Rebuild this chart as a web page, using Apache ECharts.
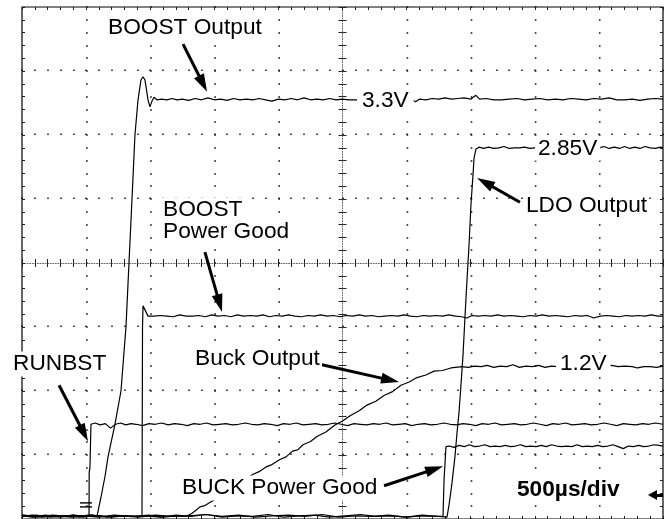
<!DOCTYPE html>
<html>
<head>
<meta charset="utf-8">
<title>Power-up sequence</title>
<script src="https://cdn.jsdelivr.net/npm/echarts@6/dist/echarts.min.js"></script>
<style>
    html, body { margin: 0; padding: 0; background: #fff; }
    #scope_shot { width: 669px; height: 519px; }
</style>
</head>
<body>
<div id="scope_shot"></div>
<script>
// ------------------------------
// Data (time in µs, level in screen divisions from the bottom)
// ------------------------------

var timeMin = 0, timeMax = 5000, timeStep = 500;   // 500µs/div, 10 divisions
var levelMin = 0, levelMax = 8, levelStep = 1;     // 8 divisions

// Dotted graticule (the centre lines are drawn by the centre axes)
var timeGrid = [500, 1000, 1500, 2000, 3000, 3500, 4000, 4500];
var levelGrid = [1, 2, 3, 5, 6, 7];

var boostOut = [
    [0, 0.05], [90, 0.03], [180, 0.06], [270, 0.04], [360, 0.05], [450, 0.03], [540, 0.06], [585, 0.04],
    [616, 0.34], [647, 0.66], [671, 0.97], [725, 1.48], [772, 2.0], [811, 3.0], [835, 4.02], [858, 5.0],
    [881, 6.0], [905, 6.55], [928, 6.86], [944, 6.91], [959, 6.86], [983, 6.55], [998, 6.44], [1014, 6.53],
    [1030, 6.59], [1053, 6.55], [1090, 6.56], [1130, 6.55], [1170, 6.57], [1210, 6.55], [1250, 6.56],
    [1300, 6.54], [1350, 6.57], [1400, 6.55], [1450, 6.58], [1500, 6.55], [1550, 6.56], [1600, 6.54],
    [1650, 6.57], [1700, 6.55], [1750, 6.56], [1800, 6.55], [1850, 6.57], [1900, 6.55], [1950, 6.53],
    [2000, 6.56], [2050, 6.55], [2100, 6.57], [2150, 6.55], [2200, 6.58], [2250, 6.55], [2300, 6.56],
    [2350, 6.55], [2400, 6.57], [2450, 6.55], [2500, 6.56], [2550, 6.55], [2620, 6.55], [2800, 6.55],
    [3040, 6.55], [3070, 6.52], [3100, 6.56], [3150, 6.55], [3200, 6.57], [3250, 6.56], [3300, 6.58],
    [3350, 6.56], [3400, 6.57], [3450, 6.58], [3500, 6.56], [3540, 6.62], [3570, 6.56], [3620, 6.57],
    [3680, 6.55], [3740, 6.55], [3800, 6.56], [3860, 6.57], [3920, 6.55], [3980, 6.56], [4040, 6.57],
    [4100, 6.55], [4160, 6.56], [4220, 6.55], [4280, 6.57], [4340, 6.56], [4400, 6.55], [4460, 6.57],
    [4520, 6.56], [4580, 6.58], [4640, 6.55], [4700, 6.55], [4760, 6.56], [4820, 6.54], [4880, 6.56],
    [4940, 6.57], [5000, 6.56]
];

var boostGood = [
    [0, 0.06], [100, 0.04], [200, 0.05], [300, 0.03], [400, 0.06], [500, 0.04], [600, 0.05], [700, 0.03],
    [800, 0.05], [900, 0.04], [936, 0.04], [940, 3.0], [944, 3.33], [959, 3.30], [983, 3.17], [1030, 3.17],
    [1080, 3.18], [1130, 3.17], [1180, 3.16], [1230, 3.19], [1280, 3.17], [1330, 3.17], [1380, 3.18],
    [1430, 3.16], [1480, 3.19], [1530, 3.17], [1580, 3.18], [1630, 3.16], [1680, 3.19], [1730, 3.17],
    [1780, 3.18], [1830, 3.17], [1880, 3.19], [1930, 3.16], [1980, 3.18], [2030, 3.17], [2080, 3.19],
    [2130, 3.17], [2180, 3.16], [2230, 3.18], [2280, 3.17], [2330, 3.19], [2380, 3.17], [2430, 3.18],
    [2480, 3.16], [2530, 3.18], [2580, 3.17], [2630, 3.19], [2680, 3.17], [2730, 3.18], [2780, 3.16],
    [2830, 3.17], [2880, 3.18], [2930, 3.17], [2980, 3.19], [3030, 3.17], [3080, 3.16], [3130, 3.18],
    [3180, 3.17], [3230, 3.18], [3280, 3.17], [3330, 3.19], [3380, 3.17], [3430, 3.16], [3470, 3.14],
    [3510, 3.18], [3560, 3.17], [3610, 3.18], [3660, 3.17], [3710, 3.19], [3760, 3.17], [3810, 3.18],
    [3860, 3.17], [3910, 3.16], [3960, 3.18], [4010, 3.17], [4060, 3.19], [4110, 3.17], [4160, 3.18],
    [4210, 3.17], [4260, 3.16], [4310, 3.18], [4360, 3.17], [4410, 3.18], [4460, 3.14], [4510, 3.17],
    [4560, 3.18], [4610, 3.17], [4660, 3.16], [4710, 3.18], [4760, 3.17], [4810, 3.18], [4860, 3.17],
    [4910, 3.19], [4960, 3.17], [5000, 3.17]
];

var runBst = [
    [0, 0.04], [80, 0.06], [160, 0.03], [240, 0.05], [320, 0.04], [400, 0.06], [480, 0.03], [523, 0.04],
    [524, 0.73], [530, 0.80], [538, 1.48], [570, 1.50], [610, 1.47], [650, 1.49], [690, 1.42], [730, 1.48],
    [770, 1.50], [810, 1.47], [850, 1.49], [890, 1.48], [940, 1.46], [990, 1.49], [1040, 1.48], [1090, 1.50],
    [1140, 1.47], [1190, 1.49], [1240, 1.48], [1290, 1.46], [1340, 1.49], [1390, 1.48], [1440, 1.50],
    [1490, 1.47], [1540, 1.48], [1590, 1.49], [1640, 1.47], [1690, 1.48], [1740, 1.50], [1790, 1.48],
    [1840, 1.47], [1890, 1.49], [1940, 1.48], [1990, 1.46], [2040, 1.49], [2090, 1.48], [2140, 1.50],
    [2190, 1.47], [2240, 1.48], [2290, 1.49], [2340, 1.47], [2390, 1.48], [2440, 1.50], [2490, 1.48],
    [2540, 1.46], [2590, 1.49], [2640, 1.48], [2690, 1.47], [2740, 1.49], [2790, 1.48], [2840, 1.50],
    [2890, 1.47], [2940, 1.48], [2990, 1.49], [3040, 1.46], [3090, 1.48], [3140, 1.49], [3190, 1.47],
    [3240, 1.48], [3290, 1.50], [3340, 1.48], [3390, 1.47], [3440, 1.49], [3490, 1.48], [3540, 1.46],
    [3590, 1.49], [3640, 1.48], [3690, 1.50], [3740, 1.47], [3790, 1.48], [3840, 1.49], [3890, 1.47],
    [3940, 1.48], [3990, 1.50], [4040, 1.48], [4090, 1.46], [4140, 1.49], [4190, 1.48], [4240, 1.50],
    [4290, 1.47], [4340, 1.48], [4390, 1.49], [4440, 1.47], [4490, 1.48], [4540, 1.50], [4590, 1.48],
    [4640, 1.46], [4690, 1.49], [4740, 1.48], [4790, 1.47], [4840, 1.49], [4890, 1.48], [4940, 1.50],
    [5000, 1.48]
];

var buckOut = [
    [0, 0.04], [110, 0.06], [220, 0.03], [330, 0.05], [440, 0.04], [550, 0.06], [660, 0.03], [770, 0.05],
    [880, 0.04], [990, 0.06], [1100, 0.03], [1200, 0.05], [1271, 0.04], [1300, 0.06], [1326, 0.09],
    [1360, 0.14], [1388, 0.19], [1427, 0.21], [1500, 0.30], [1622, 0.45], [1700, 0.56], [1802, 0.70],
    [1850, 0.74], [1900, 0.81], [1950, 0.85], [2012, 0.93], [2060, 0.97], [2110, 1.06], [2150, 1.08],
    [2192, 1.16], [2250, 1.21], [2301, 1.29], [2370, 1.36], [2441, 1.47], [2500, 1.53], [2566, 1.62],
    [2630, 1.69], [2691, 1.78], [2760, 1.84], [2824, 1.93], [2890, 1.99], [2956, 2.09], [3020, 2.14],
    [3081, 2.21], [3150, 2.25], [3214, 2.31], [3280, 2.32], [3346, 2.36], [3432, 2.38], [3480, 2.37],
    [3530, 2.39], [3580, 2.38], [3630, 2.40], [3680, 2.37], [3730, 2.39], [3780, 2.38], [3830, 2.41],
    [3880, 2.37], [3930, 2.39], [3980, 2.38], [4030, 2.40], [4080, 2.37], [4130, 2.39], [4180, 2.38],
    [4560, 2.38], [4600, 2.40], [4650, 2.38], [4700, 2.39], [4760, 2.38], [4800, 2.36], [4850, 2.38],
    [4900, 2.38], [4950, 2.37], [5000, 2.39]
];

var buckGood = [
    [0, 0.05], [120, 0.03], [240, 0.06], [360, 0.04], [480, 0.05], [600, 0.03], [720, 0.06], [840, 0.04],
    [960, 0.05], [1080, 0.03], [1200, 0.06], [1320, 0.04], [1440, 0.07], [1560, 0.03], [1680, 0.05],
    [1800, 0.04], [1920, 0.07], [2040, 0.03], [2160, 0.05], [2280, 0.06], [2400, 0.03], [2520, 0.05],
    [2640, 0.07], [2760, 0.04], [2880, 0.05], [3000, 0.03], [3120, 0.06], [3240, 0.04], [3284, 0.04],
    [3292, 0.61], [3307, 1.13], [3331, 1.14], [3370, 1.12], [3410, 1.15], [3450, 1.13], [3490, 1.16],
    [3530, 1.13], [3570, 1.14], [3610, 1.16], [3650, 1.13], [3690, 1.14], [3730, 1.13], [3770, 1.15],
    [3810, 1.13], [3850, 1.14], [3890, 1.16], [3930, 1.13], [3970, 1.14], [4010, 1.13], [4050, 1.15],
    [4090, 1.13], [4130, 1.16], [4170, 1.14], [4210, 1.13], [4250, 1.14], [4290, 1.13], [4330, 1.16],
    [4370, 1.13], [4410, 1.14], [4450, 1.13], [4490, 1.15], [4530, 1.13], [4570, 1.14], [4610, 1.16],
    [4650, 1.13], [4690, 1.10], [4730, 1.14], [4770, 1.13], [4810, 1.15], [4850, 1.13], [4890, 1.14],
    [4930, 1.16], [4970, 1.15], [5000, 1.14]
];

var ldoOut = [
    [0, 0.06], [130, 0.04], [260, 0.05], [390, 0.03], [520, 0.06], [650, 0.04], [780, 0.05], [910, 0.03],
    [1040, 0.06], [1170, 0.04], [1300, 0.05], [1430, 0.07], [1560, 0.04], [1690, 0.06], [1820, 0.03],
    [1950, 0.05], [2080, 0.06], [2210, 0.04], [2340, 0.07], [2470, 0.03], [2600, 0.05], [2730, 0.04],
    [2860, 0.06], [2990, 0.03], [3120, 0.05], [3250, 0.04], [3315, 0.03], [3331, 0.22], [3354, 0.56],
    [3377, 0.97], [3393, 1.34], [3409, 1.67], [3424, 2.09], [3440, 2.56], [3455, 3.14], [3471, 3.73],
    [3487, 4.28], [3502, 4.91], [3518, 5.38], [3526, 5.64], [3541, 5.78], [3565, 5.81], [3600, 5.79],
    [3640, 5.81], [3680, 5.79], [3720, 5.80], [3760, 5.82], [3800, 5.79], [3840, 5.80], [3880, 5.80],
    [3920, 5.81], [3960, 5.79], [4000, 5.80], [4500, 5.80], [4540, 5.82], [4580, 5.79], [4620, 5.81],
    [4660, 5.79], [4700, 5.82], [4740, 5.79], [4780, 5.81], [4820, 5.79], [4860, 5.82], [4900, 5.80],
    [4940, 5.79], [4980, 5.81], [5000, 5.80]
];

// Ground reference marker of the channels
var groundMark = [[499, 0.22]];

// Pointer arrows: [tail, head centre]
var pointers = [
    [[1256, 7.42], [1412, 6.80]],   // BOOST Output
    [[1427, 4.17], [1541, 3.37]],   // BOOST Power Good
    [[289, 2.09], [483, 1.34]],     // RUNBST
    [[2340, 2.41], [2872, 2.17]],   // Buck Output
    [[3884, 4.95], [3611, 5.26]],   // LDO Output
    [[2824, 0.52], [3218, 0.78]]    // BUCK Power Good
];
var triggerPointer = [[5000, 0.375], [4918, 0.375]];


// ------------------------------
// Chart
// ------------------------------

var ScopeShot = function() {

    var FONT = '"Liberation Sans", Arial, Helvetica, sans-serif';
    var PLOT_W = 641, PLOT_H = 512;

    var _scope = function() {
        if (typeof echarts == 'undefined') {
            console.warn('Warning - echarts.min.js is not loaded.');
            return;
        }

        var scope_element = document.getElementById('scope_shot');
        if (!scope_element) {
            return;
        }

        var scope = echarts.init(scope_element, null, { renderer: 'canvas' });

        var fine = [1, 1.564];        // dense dots for the centre cross

        // Axis helper: ticks only; a graticule row/column is an axis whose
        // (minor) ticks are so short that they read as dots
        var axis = function(kind, position, opts) {
            var isX = kind === 'x';
            var color = opts.color || '#222';
            var width = opts.width || 1;
            return {
                type: 'value',
                position: position,
                min: isX ? timeMin : levelMin,
                max: isX ? timeMax : levelMax,
                interval: isX ? timeStep : levelStep,
                offset: opts.offset || 0,
                silent: true,
                axisLine: {
                    show: !!opts.line,
                    onZero: false,
                    lineStyle: { color: '#666', width: 1, type: fine }
                },
                axisTick: {
                    show: true,
                    inside: opts.inside,
                    length: opts.tick,
                    lineStyle: { color: color, width: width }
                },
                minorTick: {
                    show: true,
                    splitNumber: 5,
                    length: opts.tick,
                    lineStyle: { color: color, width: width }
                },
                axisLabel: { show: false },
                splitLine: { show: false }
            };
        };

        var dotRow = function(level) {
            return axis('x', 'bottom', {
                inside: true, tick: 1.6, width: 1.5, color: '#111',
                offset: -(level - levelMin) / (levelMax - levelMin) * PLOT_H
            });
        };
        var dotColumn = function(t) {
            return axis('y', 'left', {
                inside: true, tick: 1.6, width: 1.5, color: '#111',
                offset: -(t - timeMin) / (timeMax - timeMin) * PLOT_W
            });
        };

        function trace(name, data) {
            return {
                name: name,
                type: 'line',
                data: data,
                showSymbol: false,
                symbol: 'none',
                silent: true,
                clip: true,
                lineStyle: { color: '#000', width: 1.2 },
                z: 3
            };
        }

        function note(text, x, y, pad) {
            return {
                type: 'text',
                x: x, y: y, z: 100,
                style: {
                    text: text,
                    font: '22.7px ' + FONT,
                    fill: '#000',
                    verticalAlign: 'middle',
                    backgroundColor: '#fff',
                    padding: pad || [1, 2]
                }
            };
        }

        scope.setOption({
            animation: false,
            backgroundColor: '#fff',
            textStyle: { fontFamily: FONT },

            grid: {
                left: 22,
                top: 7,
                width: PLOT_W,
                height: PLOT_H,
                show: true,
                borderColor: '#000',
                borderWidth: 1.2,
                containLabel: false,
                outerBoundsMode: 'none'
            },

            xAxis: [
                axis('x', 'top', { inside: true, tick: 3 }),
                axis('x', 'bottom', { inside: true, tick: 3 }),
                axis('x', 'bottom', { inside: true, tick: 4, offset: -PLOT_H / 2, line: true }),
                axis('x', 'bottom', { inside: false, tick: 4, offset: -PLOT_H / 2 })
            ].concat(levelGrid.map(dotRow)),

            yAxis: [
                axis('y', 'left', { inside: true, tick: 3 }),
                axis('y', 'right', { inside: true, tick: 3 }),
                axis('y', 'left', { inside: true, tick: 4, offset: -PLOT_W / 2, line: true }),
                axis('y', 'left', { inside: false, tick: 4, offset: -PLOT_W / 2 })
            ].concat(timeGrid.map(dotColumn)),

            series: [
                trace('BOOST Output', boostOut),
                trace('BOOST Power Good', boostGood),
                trace('RUNBST', runBst),
                trace('Buck Output', buckOut),
                trace('BUCK Power Good', buckGood),
                trace('LDO Output', ldoOut),
                {
                    name: 'Ground',
                    type: 'scatter',
                    silent: true,
                    data: groundMark,
                    symbol: 'path://M0,0L12,0L12,1.6L0,1.6Z M0,4L12,4L12,5.6L0,5.6Z',
                    symbolSize: [12, 5.6],
                    itemStyle: { color: '#000' },
                    z: 5
                },
                {
                    name: 'Pointers',
                    type: 'line',
                    silent: true,
                    data: [],
                    markLine: {
                        silent: true,
                        animation: false,
                        symbol: ['none', 'triangle'],
                        symbolSize: [11, 18],
                        label: { show: false },
                        lineStyle: { color: '#000', width: 3, type: 'solid' },
                        itemStyle: { color: '#000' },
                        emphasis: { disabled: true },
                        data: pointers.map(function(p) {
                            return [{ coord: p[0] }, { coord: p[1] }];
                        }).concat([[
                            { coord: triggerPointer[0] },
                            { coord: triggerPointer[1], symbolSize: [10, 9] }
                        ]])
                    },
                    z: 6
                }
            ],

            // Annotations
            graphic: [
                note('BOOST Output', 106, 28),
                note('BOOST', 161, 210),
                note('Power Good', 161, 232),
                note('RUNBST', 11, 364),
                note('Buck Output', 193, 359),
                note('BUCK Power Good', 180, 488),
                note('LDO Output', 524, 206),
                note('3.3V', 357, 101, [0, 5]),
                note('2.85V', 535, 149, [0, 3]),
                note('1.2V', 556, 364, [0, 4]),
                {
                    type: 'text',
                    x: 515, y: 490, z: 100,
                    style: {
                        text: '500µs/div',
                        font: 'bold 22.7px ' + FONT,
                        fill: '#000',
                        verticalAlign: 'middle',
                        backgroundColor: '#fff',
                        padding: [1, 2]
                    }
                }
            ]
        });
    };

    return {
        init: function() {
            _scope();
        }
    };
}();

document.addEventListener('DOMContentLoaded', function() {
    ScopeShot.init();
});
</script>
</body>
</html>
